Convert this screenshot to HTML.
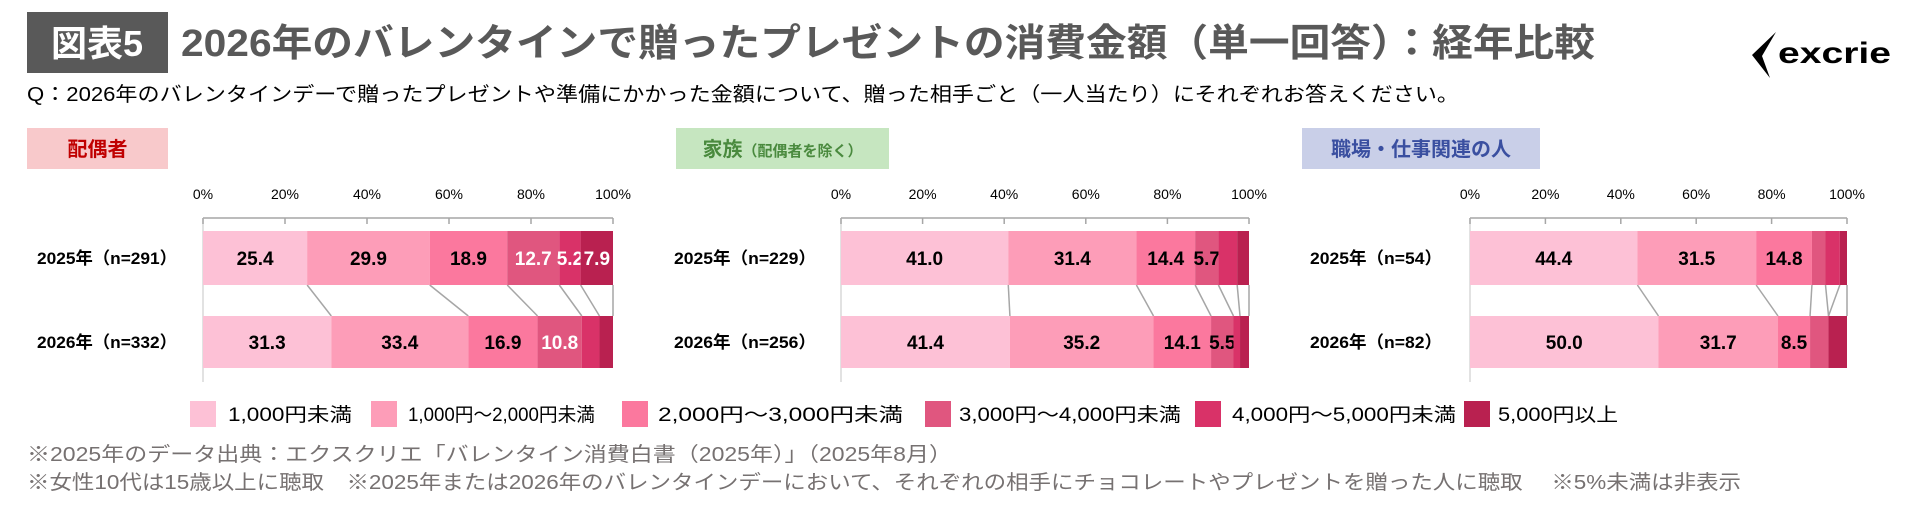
<!DOCTYPE html>
<html><head><meta charset="utf-8">
<style>
html,body{margin:0;padding:0;background:#fff;}
svg{display:block;font-family:"Liberation Sans","Noto Sans CJK JP",sans-serif;}
</style></head>
<body>
<svg id="root" width="1919" height="514" viewBox="0 0 1919 514" xmlns="http://www.w3.org/2000/svg">
  <rect x="27" y="12" width="141" height="61" fill="#595959"/>
  <text x="97" y="56" text-anchor="middle" font-size="36" font-weight="bold" fill="#fff">図表5</text>
  <text x="181" y="56" font-size="38" font-weight="bold" fill="#595959" textLength="1414" lengthAdjust="spacingAndGlyphs">2026年のバレンタインで贈ったプレゼントの消費金額（単一回答）：経年比較</text>
  <path d="M1776 32 L1752 55 L1770 78 L1762 56 Z" fill="#000"/>
  <text x="1778" y="63" font-size="30" font-weight="bold" fill="#000" textLength="113" lengthAdjust="spacingAndGlyphs">excrie</text>
  <text x="27" y="101" font-size="20" fill="#000" textLength="1432" lengthAdjust="spacingAndGlyphs">Q：2026年のバレンタインデーで贈ったプレゼントや準備にかかった金額について、贈った相手ごと（一人当たり）にそれぞれお答えください。</text>
  <g id="charts"></g>
  <g id="legend"></g>
  <text x="27" y="461" font-size="20" fill="#767171" textLength="925" lengthAdjust="spacingAndGlyphs">※2025年のデータ出典：エクスクリエ「バレンタイン消費白書（2025年）」（2025年8月）</text>
  <text x="27" y="489" font-size="20" fill="#767171" textLength="1714" lengthAdjust="spacingAndGlyphs">※女性10代は15歳以上に聴取　※2025年または2026年のバレンタインデーにおいて、それぞれの相手にチョコレートやプレゼントを贈った人に聴取　 ※5%未満は非表示</text>
</svg>
<script>
const categories = ["1,000円未満","1,000円～2,000円未満","2,000円～3,000円未満","3,000円～4,000円未満","4,000円～5,000円未満","5,000円以上"];
const colors = ["#fdc1d6","#fd9db8","#fb789e","#e0567f","#d93268","#b92150"];
const ticks = [0,20,40,60,80,100];
const panelTitles = ["配偶者","家族","職場・仕事関連の人"];
const rowLabelsSpouse = ["2025年（n=291）","2026年（n=332）"];
const rowLabelsFamily = ["2025年（n=229）","2026年（n=256）"];
const rowLabelsWork = ["2025年（n=54）","2026年（n=82）"];
const spouse2025 = [25.4,29.9,18.9,12.7,5.2,7.9];
const spouse2026 = [31.3,33.4,16.9,10.8,4.3,3.3];
const family2025 = [41.0,31.4,14.4,5.7,4.6,2.9];
const family2026 = [41.4,35.2,14.1,5.5,1.6,2.2];
const work2025 = [44.4,31.5,14.8,3.6,3.8,1.9];
const work2026 = [50.0,31.7,8.5,4.9,0,4.9];
const labelWhiteSpouse = [false,false,false,true,true,true];
const labelWhiteFamily = [false,false,false,false,true,true];
const labelWhiteWork = [false,false,false,true,true,true];

const NS="http://www.w3.org/2000/svg";
function mk(tag,attrs,parent){const e=document.createElementNS(NS,tag);for(const k in attrs)e.setAttribute(k,attrs[k]);parent.appendChild(e);return e;}

const panels=[
 {key:"spouse",x0:203,x1:613,lx:37,lw:140,tag:[27,141,"#f8c9cb","#c00000"],rows:rowLabelsSpouse,data:[spouse2025,spouse2026],white:labelWhiteSpouse},
 {key:"family",x0:841,x1:1249,lx:674,lw:142,tag:[676,213,"#c6e6c0","#4a8a3e"],rows:rowLabelsFamily,data:[family2025,family2026],white:labelWhiteFamily},
 {key:"work",x0:1470,x1:1847,lx:1310,lw:132,tag:[1302,238,"#c9cfe8","#3a4fa0"],rows:rowLabelsWork,data:[work2025,work2026],white:labelWhiteWork}
];
const rowY=[[231,285],[316,368]];
const axisY=218;
const charts=document.getElementById('charts');
panels.forEach((p,pi)=>{
  const g=mk('g',{},charts);
  
  
  const sx=v=>p.x0+(p.x1-p.x0)*v/100;
  const tr=mk('rect',{x:p.tag[0],y:128,width:p.tag[1],height:41,fill:p.tag[2]},g);
  
  
  const tt=mk('text',{x:p.tag[0]+p.tag[1]/2,y:156,'text-anchor':'middle','font-size':20,'font-weight':'bold',fill:p.tag[3]},g);
  
  
  if(pi===1){tt.textContent=panelTitles[1];const ts=mk('tspan',{'font-size':15},tt);ts.textContent="（配偶者を除く）";}
  else tt.textContent=panelTitles[pi];
  const ax=mk('line',{x1:p.x0,y1:axisY,x2:p.x1,y2:axisY,stroke:'#a6a6a6','stroke-width':1.5},g);
  
  
  const vl=mk('line',{x1:p.x0,y1:axisY,x2:p.x0,y2:382,stroke:'#d9d9d9','stroke-width':1.5},g);
  
  
  ticks.forEach(t=>{
    const tk=mk('line',{x1:sx(t),y1:axisY,x2:sx(t),y2:axisY+6,stroke:'#a6a6a6','stroke-width':1.5},g);
    
    
    const tl=mk('text',{x:sx(t),y:199,'text-anchor':'middle','font-size':14,fill:'#000'},g);
    tl.textContent=t+'%';
    
    
  });
  let c0=0,c1=0;
  for(let i=0;i<5;i++){
    c0+=p.data[0][i];c1+=p.data[1][i];
    const cl=mk('line',{x1:sx(c0),y1:rowY[0][1],x2:sx(c1),y2:rowY[1][0],stroke:'#a6a6a6','stroke-width':1.5},g);
    
    
  }
  const el=mk('line',{x1:p.x1,y1:rowY[0][1],x2:p.x1,y2:rowY[1][0],stroke:'#a6a6a6','stroke-width':1.5},g);
  
  
  p.data.forEach((vals,ri)=>{
    const [y0,y1]=rowY[ri];
    const rl=mk('text',{x:p.lx,y:(y0+y1)/2+6,'font-size':17,'font-weight':'bold',fill:'#000',textLength:p.lw,lengthAdjust:'spacingAndGlyphs'},g);
    rl.textContent=p.rows[ri];
    
    
    let acc=0;
    vals.forEach((v,i)=>{
      const r=mk('rect',{x:sx(acc),y:y0,width:Math.max(0,sx(acc+v)-sx(acc)),height:y1-y0,fill:colors[i]},g);
      
      
      if(v>=5){
        const bl=mk('text',{x:sx(acc+v/2),y:(y0+y1)/2+7,'text-anchor':'middle','font-size':19,'font-weight':'bold',fill:p.white[i]?'#fff':'#000'},g);
        bl.textContent=v.toFixed(1);
        
        
      }
      acc+=v;
    });
  });
});
const legend=document.getElementById('legend');
const lsq=[190,371,622,925,1195,1464];
const ltx=[[228,124],[408,187],[658,245],[959,222],[1232,224],[1498,120]];
categories.forEach((c,i)=>{
  const s=mk('rect',{x:lsq[i],y:401,width:26,height:26,fill:colors[i]},legend);
  
  
  const t=mk('text',{x:ltx[i][0],y:421,'font-size':19,fill:'#000',textLength:ltx[i][1],lengthAdjust:'spacingAndGlyphs'},legend);
  t.textContent=c;
  
  
});
</script>
</body></html>
